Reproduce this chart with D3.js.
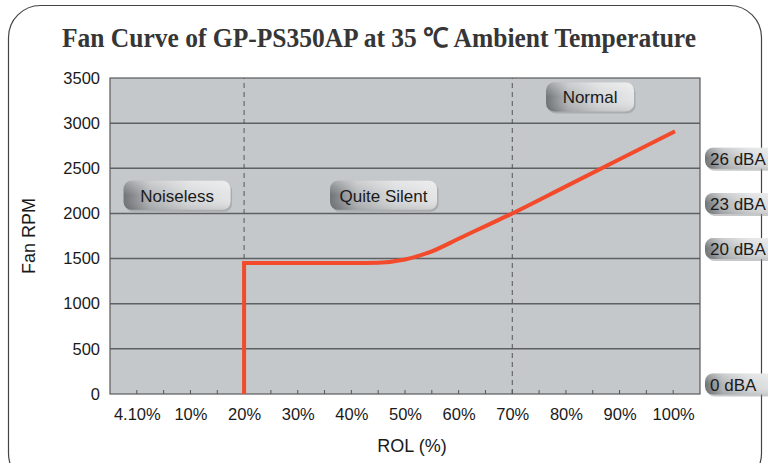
<!DOCTYPE html>
<html>
<head>
<meta charset="utf-8">
<script src="https://cdn.jsdelivr.net/npm/d3@7"></script>
<style>
	body { margin: 0; background: #fff; }
	svg { display: block; }
</style>
</head>
<body>
<div id="chart"></div>
<script>
// x categories (ROL %) and their tick labels
var rolValues = [0, 10, 20, 30, 40, 50, 60, 70, 80, 90, 100];
var rolLabels = ["4.10%", "10%", "20%", "30%", "40%", "50%", "60%", "70%", "80%", "90%", "100%"];
var rpmTicks = [0, 500, 1000, 1500, 2000, 2500, 3000, 3500];

// fan curve: vertical start, then the curve (ROL %, RPM)
var startRol = [20, 20];
var startRpm = [0, 1450];
var curveRol = [20, 30, 40, 45, 50, 55, 60, 65, 70, 80, 90, 100];
var curveRpm = [1450, 1450, 1450, 1455, 1490, 1580, 1720, 1860, 2000, 2300, 2600, 2900];

// zone markers and labels
var zoneLines = [20, 70];
var zoneNames = ["Noiseless", "Quite Silent", "Normal"];
var zoneRol = [7.5, 46, 84.5];
var zoneRpm = [2200, 2200, 3290];

// noise levels on the right
var dbaLabels = ["26 dBA", "23 dBA", "20 dBA", "0 dBA"];
var dbaRpm = [2500, 2000, 1500, 0];

var width = 768, height = 463;
var margin = {left: 110, right: 68, top: 78, bottom: 69};
var sans = "Liberation Sans, Arial, sans-serif";

var svg = d3.select("#chart").append("svg")
	.attr("width", width)
	.attr("height", height);

var defs = svg.append("defs");
var grad = defs.append("linearGradient")
	.attr("id", "badge")
	.attr("x1", "0").attr("y1", "0")
	.attr("x2", "1").attr("y2", "0");
grad.append("stop").attr("offset", "0%").attr("stop-color", "#6f7376");
grad.append("stop").attr("offset", "25%").attr("stop-color", "#b3b6b8");
grad.append("stop").attr("offset", "60%").attr("stop-color", "#d6d8d9");
grad.append("stop").attr("offset", "100%").attr("stop-color", "#e4e5e6");

var shine = defs.append("linearGradient")
	.attr("id", "shine")
	.attr("x1", "0").attr("y1", "0")
	.attr("x2", "0").attr("y2", "1");
shine.append("stop").attr("offset", "0%").attr("stop-color", "#fff").attr("stop-opacity", 0.35);
shine.append("stop").attr("offset", "50%").attr("stop-color", "#fff").attr("stop-opacity", 0);
shine.append("stop").attr("offset", "100%").attr("stop-color", "#000").attr("stop-opacity", 0.1);

// outer frame
svg.append("rect")
	.attr("x", 8.5).attr("y", 5.5)
	.attr("width", 753).attr("height", 480)
	.attr("rx", 32).attr("ry", 32)
	.attr("fill", "none")
	.attr("stroke", "#444")
	.attr("stroke-width", 1.2);

svg.append("text")
	.attr("x", 379)
	.attr("y", 47)
	.attr("text-anchor", "middle")
	.attr("font-family", "Liberation Serif, Times New Roman, serif")
	.attr("font-weight", "bold")
	.attr("font-size", 27)
	.attr("textLength", 634)
	.attr("lengthAdjust", "spacingAndGlyphs")
	.attr("fill", "#363636")
	.text("Fan Curve of GP-PS350AP at 35 \u2103 Ambient Temperature");

var x = d3.scaleLinear()
	.domain([-5, 105])
	.range([margin.left, width - margin.right]);

var y = d3.scaleLinear()
	.domain([0, 3500])
	.range([height - margin.bottom, margin.top]);

// plot background
svg.append("rect")
	.attr("x", x(-5)).attr("y", y(3500))
	.attr("width", x(105) - x(-5))
	.attr("height", y(0) - y(3500))
	.attr("fill", "#c5c8ca");

// grid
svg.append("g")
	.selectAll("line")
	.data(rpmTicks.slice(1, -1))
	.enter()
	.append("line")
	.attr("x1", x(-5)).attr("x2", x(105))
	.attr("y1", d => y(d)).attr("y2", d => y(d))
	.attr("stroke", "#5d6164")
	.attr("stroke-width", 1.5);

svg.append("g")
	.selectAll("line")
	.data(zoneLines)
	.enter()
	.append("line")
	.attr("x1", d => x(d)).attr("x2", d => x(d))
	.attr("y1", y(0)).attr("y2", y(3500))
	.attr("stroke", "#555")
	.attr("stroke-width", 1)
	.attr("stroke-dasharray", "5,4");

// minor ticks every 5%
svg.append("g")
	.selectAll("line")
	.data(d3.range(0, 101, 5))
	.enter()
	.append("line")
	.attr("x1", d => x(d)).attr("x2", d => x(d))
	.attr("y1", y(0)).attr("y2", y(0) - 4)
	.attr("stroke", "#555")
	.attr("stroke-width", 1);

svg.append("rect")
	.attr("x", x(-5)).attr("y", y(3500))
	.attr("width", x(105) - x(-5))
	.attr("height", y(0) - y(3500))
	.attr("fill", "none")
	.attr("stroke", "#5a5a5a")
	.attr("stroke-width", 1.2);

var xAxis = d3.axisBottom(x)
	.tickValues(rolValues)
	.tickFormat((d, i) => rolLabels[i])
	.tickSize(0)
	.tickPadding(14);

var yAxis = d3.axisLeft(y)
	.tickValues(rpmTicks)
	.tickFormat(d3.format("d"))
	.tickSize(0)
	.tickPadding(10);

var gx = svg.append("g")
	.attr("transform", `translate(0,${y(0)})`)
	.call(xAxis);
var gy = svg.append("g")
	.attr("transform", `translate(${x(-5)},0)`)
	.call(yAxis);

[gx, gy].forEach(function(g) {
	g.select(".domain").remove();
	g.selectAll("text")
		.attr("font-family", sans)
		.attr("font-size", 16.5)
		.attr("fill", "#1a1a1a");
});

svg.append("text")
	.attr("x", 412)
	.attr("y", 452)
	.attr("text-anchor", "middle")
	.attr("font-family", sans)
	.attr("font-size", 18)
	.attr("fill", "#1a1a1a")
	.text("ROL (%)");

svg.append("text")
	.attr("transform", "translate(35,236) rotate(-90)")
	.attr("text-anchor", "middle")
	.attr("font-family", sans)
	.attr("font-size", 18)
	.attr("fill", "#1a1a1a")
	.text("Fan RPM");

// fan curve
var line = d3.line()
	.x(d => x(d[0]))
	.y(d => y(d[1]));

svg.append("path")
	.datum(startRol.map((r, i) => [r, startRpm[i]]))
	.attr("d", line)
	.attr("fill", "none")
	.attr("stroke", "#f24a2b")
	.attr("stroke-width", 4);

svg.append("path")
	.datum(curveRol.map((r, i) => [r, curveRpm[i]]))
	.attr("d", line.curve(d3.curveMonotoneX))
	.attr("fill", "none")
	.attr("stroke", "#f24a2b")
	.attr("stroke-width", 4)
	.attr("stroke-linecap", "square");

// badges
function badge(g, cx, cy, label, w, h, anchor) {
	var bx = anchor == "start" ? cx : cx - w / 2;
	g.append("rect")
		.attr("x", bx + 1.5).attr("y", cy - h / 2 + 2)
		.attr("width", w).attr("height", h)
		.attr("rx", 8)
		.attr("fill", "#8e9194")
		.attr("opacity", 0.5);
	g.append("rect")
		.attr("x", bx).attr("y", cy - h / 2)
		.attr("width", w).attr("height", h)
		.attr("rx", 8)
		.attr("fill", "url(#badge)");
	g.append("rect")
		.attr("x", bx).attr("y", cy - h / 2)
		.attr("width", w).attr("height", h)
		.attr("rx", 8)
		.attr("fill", "url(#shine)");
	g.append("text")
		.attr("x", anchor == "start" ? cx + 5 : cx)
		.attr("y", cy + 1)
		.attr("text-anchor", anchor == "start" ? "start" : "middle")
		.attr("dominant-baseline", "central")
		.attr("font-family", sans)
		.attr("font-size", 17)
		.attr("fill", "#1a1a1a")
		.text(label);
}

var zw = [107, 107, 88];
zoneNames.forEach(function(name, i) {
	badge(svg.append("g"), x(zoneRol[i]), y(zoneRpm[i]), name, zw[i], 29, "middle");
});

dbaLabels.forEach(function(name, i) {
	badge(svg.append("g"), 705, y(dbaRpm[i]) - 10, name, 72, 21, "start");
});
</script>
</body>
</html>
